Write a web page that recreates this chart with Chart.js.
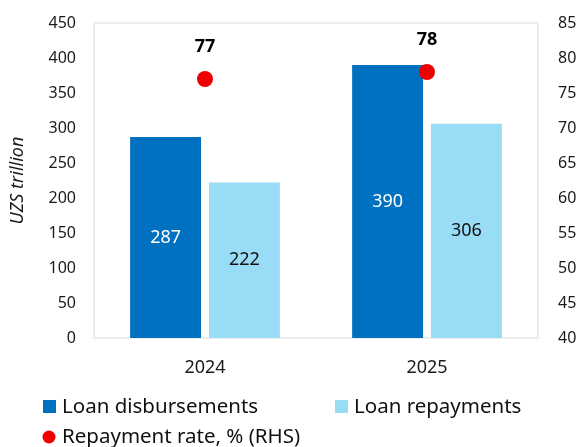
<!DOCTYPE html>
<html>
<head>
<meta charset="utf-8">
<script src="https://cdn.jsdelivr.net/npm/chart.js@4.4.1/dist/chart.umd.min.js"></script>
<style>
  html, body { margin: 0; padding: 0; background: #fff; }
  #wrap { width: 582px; height: 447px; }
</style>
</head>
<body>
<div id="wrap"><canvas id="loanChart" width="582" height="447"></canvas></div>
<script>
const years = ['2024', '2025'];
const disbursements = [287, 390];
const repayments = [222, 306];
const repaymentRate = [77, 78];
const leftTicks = [0, 450, 50];
const rightTicks = [40, 85, 5];

const darkBlue = '#0070C0';
const lightBlue = '#99DCF6';
const red = '#EE0000';

Chart.defaults.font.family = "'Noto Sans', sans-serif";
Chart.defaults.color = '#1a1a1a';

// light frame around the plot area
const frame = {
  id: 'frame',
  beforeDatasetsDraw(chart) {
    const {ctx, chartArea: a} = chart;
    ctx.save();
    ctx.strokeStyle = '#ededed';
    ctx.lineWidth = 2;
    ctx.strokeRect(a.left, a.top, a.right - a.left, a.bottom - a.top);
    ctx.restore();
  }
};

// values inside bars and above rate points
const valueLabels = {
  id: 'valueLabels',
  afterDatasetsDraw(chart) {
    const ctx = chart.ctx;
    ctx.save();
    ctx.textAlign = 'center';
    ctx.textBaseline = 'middle';
    chart.data.datasets.forEach((ds, i) => {
      const meta = chart.getDatasetMeta(i);
      meta.data.forEach((el, j) => {
        const v = ds.data[j];
        if (ds.type === 'line') {
          ctx.font = "bold 18px 'Noto Sans', sans-serif";
          ctx.fillStyle = '#000';
          ctx.fillText(v, el.x, el.y - 32);
        } else {
          ctx.font = "18px 'Noto Sans', sans-serif";
          ctx.fillStyle = i === 0 ? '#fff' : '#111';
          ctx.fillText(v, el.x, (el.y + el.base) / 2);
        }
      });
    });
    ctx.restore();
  }
};

// legend in two columns under the chart
const sideLegend = {
  id: 'sideLegend',
  afterDraw(chart) {
    const ctx = chart.ctx;
    const spots = [[43, 407], [335, 407], [43, 437]];
    ctx.save();
    ctx.font = "20.5px 'Noto Sans', sans-serif";
    ctx.textBaseline = 'middle';
    ctx.textAlign = 'left';
    chart.data.datasets.forEach((ds, i) => {
      const [x, y] = spots[i];
      if (ds.type === 'line') {
        ctx.fillStyle = ds.backgroundColor;
        ctx.beginPath();
        ctx.arc(x + 6, y, 6.5, 0, Math.PI * 2);
        ctx.fill();
      } else {
        ctx.fillStyle = ds.backgroundColor;
        ctx.fillRect(x, y - 7, 13, 13);
      }
      ctx.fillStyle = '#111';
      ctx.fillText(ds.label, x + 19, y);
    });
    ctx.restore();
  }
};

// keep the value axes from pushing the plot area down
function fixSide(width) {
  return function (scale) {
    scale.width = width;
    scale.paddingTop = 0;
    scale.paddingBottom = 0;
  };
}

new Chart(document.getElementById('loanChart').getContext('2d'), {
  type: 'bar',
  data: {
    labels: years,
    datasets: [{
      label: 'Loan disbursements',
      data: disbursements,
      backgroundColor: darkBlue,
      borderWidth: 0,
      yAxisID: 'y',
      order: 2
    }, {
      label: 'Loan repayments',
      data: repayments,
      backgroundColor: lightBlue,
      borderWidth: 0,
      yAxisID: 'y',
      order: 2
    }, {
      type: 'line',
      label: 'Repayment rate, % (RHS)',
      data: repaymentRate,
      showLine: false,
      backgroundColor: red,
      borderColor: red,
      pointRadius: 8,
      pointHoverRadius: 8,
      pointBorderWidth: 0,
      yAxisID: 'y1',
      order: 1
    }]
  },
  options: {
    responsive: false,
    animation: false,
    categoryPercentage: 0.71,
    barPercentage: 0.9,
    layout: { padding: { top: 23, left: 0, right: 0, bottom: 0 } },
    plugins: {
      legend: { display: false },
      tooltip: { enabled: false },
      title: { display: false }
    },
    scales: {
      x: {
        grid: { display: false, drawTicks: false },
        border: { display: false },
        ticks: { padding: 19, font: { size: 18 }, color: '#1a1a1a' },
        afterFit(scale) { scale.height = 109; }
      },
      y: {
        position: 'left',
        min: leftTicks[0],
        max: leftTicks[1],
        grid: { display: false, drawTicks: false },
        border: { display: false },
        ticks: { stepSize: leftTicks[2], padding: 18, font: { size: 16 }, color: '#1a1a1a' },
        title: {
          display: true,
          text: 'UZS trillion',
          font: { size: 18, style: 'italic' },
          color: '#1a1a1a',
          padding: { top: 7, bottom: 0 }
        },
        afterFit: fixSide(94)
      },
      y1: {
        position: 'right',
        min: rightTicks[0],
        max: rightTicks[1],
        grid: { display: false, drawTicks: false },
        border: { display: false },
        ticks: { stepSize: rightTicks[2], padding: 20, font: { size: 16 }, color: '#1a1a1a' },
        afterFit: fixSide(44)
      }
    }
  },
  plugins: [frame, valueLabels, sideLegend]
});
</script>
</body>
</html>
